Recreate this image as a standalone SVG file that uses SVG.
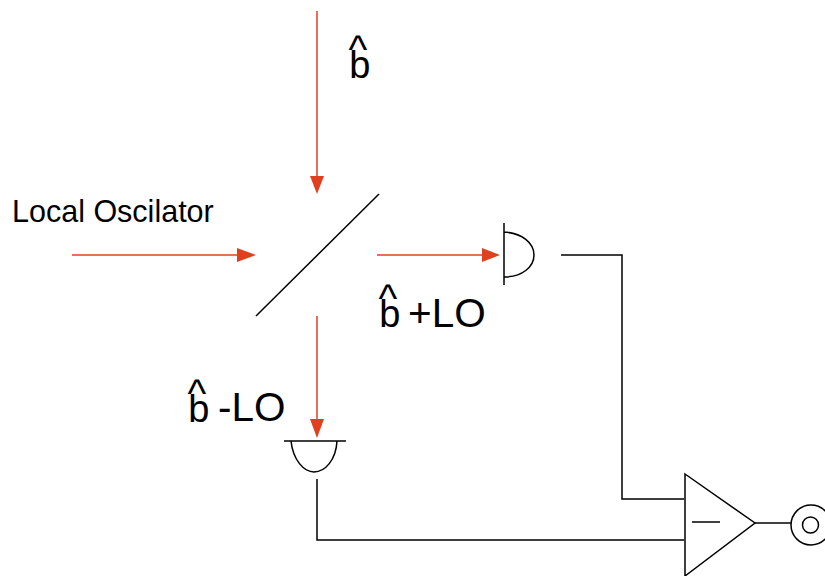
<svg xmlns="http://www.w3.org/2000/svg" width="825" height="576" viewBox="0 0 825 576">
<style>
.k{fill:none;stroke:#000;stroke-width:1.5}
.r{fill:none;stroke:#e04020;stroke-width:1.5}
.h{fill:#e04020;stroke:none}
text{font-family:"Liberation Sans",Arial,sans-serif;fill:#000}
.l{font-size:40.5px}
.b{font-size:38px}
.c{font-size:40px}
</style>
<rect width="825" height="576" fill="#fff"/>
<g id="connectors">
<path class="r" d="M317 11V180"/><path class="h" d="M310 176H324L317 194Z"/>
<path class="r" d="M72 255H240"/><path class="h" d="M237 248L256 255L237 262Z"/>
<path class="r" d="M377 255H485"/><path class="h" d="M482 248L500 255L482 262Z"/>
<path class="r" d="M317 316V422"/><path class="h" d="M310 419H324L317 438Z"/>
<path class="k" d="M561 255H622V499H684"/>
<path class="k" d="M317 479V540H684"/>
<path class="k" d="M755 523H791"/>
</g>
<g id="beam-splitter"><path class="k" d="M256 316L379 194"/></g>
<g id="detector-plus"><path class="k" d="M504 223V285M504 232C522 233 534 243 534 255C534 267 522 277 504 277"/></g>
<g id="detector-minus"><path class="k" d="M284 441H346M291 441C293 460 304 472 314 472C325 472 336 460 337 441"/></g>
<g id="amplifier"><path class="k" d="M685 474L755 523L685 576Z"/><path class="k" d="M692 522H720"/></g>
<g id="output"><circle class="k" cx="811" cy="525" r="20"/><circle class="k" cx="810.5" cy="525" r="8"/></g>
<g id="label-b"><text class="b" x="348.5" y="78">b<tspan class="c" dx="-22" dy="-15">^</tspan></text></g>
<g id="label-lo"><text x="12" y="222" font-size="30.5">Local Oscilator</text></g>
<g id="label-plus"><text class="b" x="378.5" y="327">b<tspan class="c" dx="-22" dy="-15">^</tspan></text><text class="l" x="408" y="327">+LO</text></g>
<g id="label-minus"><text class="b" x="187.5" y="422">b<tspan class="c" dx="-22" dy="-15">^</tspan></text><text class="l" x="218" y="421">-LO</text></g>
</svg>
